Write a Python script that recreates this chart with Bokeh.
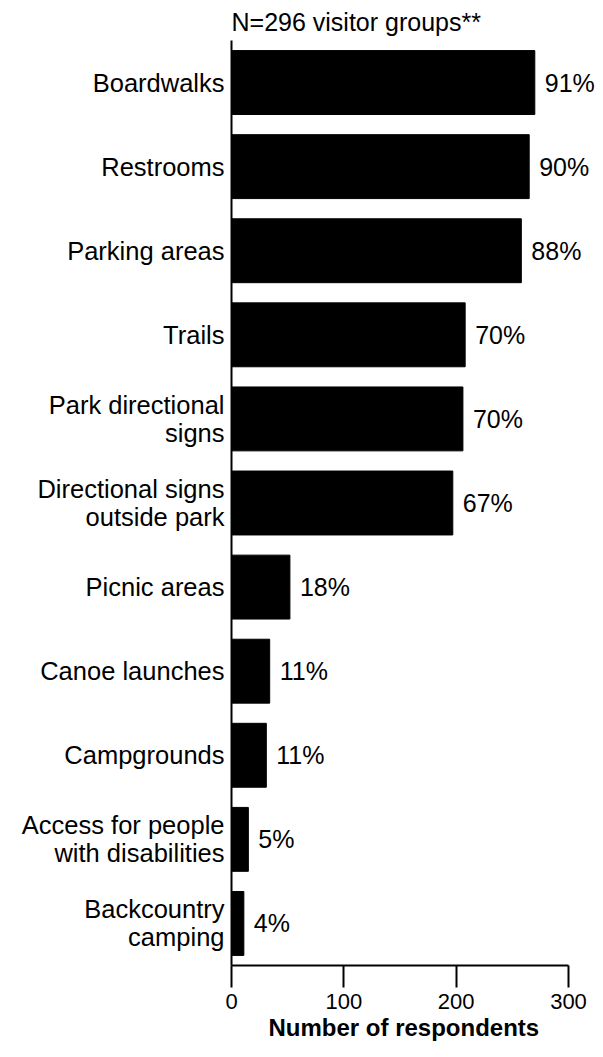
from bokeh.plotting import figure
from bokeh.models import FactorRange, Range1d, FixedTicker, ColumnDataSource, Title
from bokeh.embed import file_html
from bokeh.resources import INLINE
from bokeh.core.properties import value

categories = [
    "Boardwalks",
    "Restrooms",
    "Parking areas",
    "Trails",
    "Park directional\nsigns",
    "Directional signs\noutside park",
    "Picnic areas",
    "Canoe launches",
    "Campgrounds",
    "Access for people\nwith disabilities",
    "Backcountry\ncamping",
]
respondents = [270, 265, 258, 208, 206, 197, 52, 34, 31, 15, 11]
percent_labels = ["91%", "90%", "88%", "70%", "70%", "67%", "18%", "11%", "11%", "5%", "4%"]
x_ticks = [0, 100, 200, 300]
title_text = "N=296 visitor groups**"
x_title = "Number of respondents"

FONT = "Liberation Sans"

source = ColumnDataSource(dict(cat=categories, val=respondents, pct=percent_labels))

p = figure(
    width=598, height=1050,
    y_range=FactorRange(factors=categories[::-1], range_padding=0),
    x_range=Range1d(0, 326.7),
    output_backend="svg", toolbar_location=None,
    min_border_left=231, min_border_right=0, min_border_top=40, min_border_bottom=85,
)
p.title.text = title_text
p.title.text_font = FONT
p.title.text_font_size = "25px"
p.title.text_font_style = "normal"
p.title.text_color = "black"
p.title.align = "left"
p.title.text_line_height = 0.7
p.title.standoff = 9

p.hbar(y="cat", right="val", left=0, height=0.76, source=source,
       fill_color="black", line_color="black")
p.text(x="val", y="cat", text="pct", source=source, x_offset=10,
       text_align="left", text_baseline="middle",
       text_font=value(FONT), text_font_size="25px", text_color="black")

p.xgrid.grid_line_color = None
p.ygrid.grid_line_color = None
p.outline_line_color = None

xa = p.xaxis[0]
xa.ticker = FixedTicker(ticks=x_ticks)
xa.bounds = (0, 300)
xa.axis_line_width = 2
xa.major_tick_line_width = 2
xa.major_tick_in = 0
xa.major_tick_out = 22
xa.minor_tick_line_color = None
xa.major_label_standoff = 6
xa.major_label_text_font = FONT
xa.major_label_text_font_size = "22px"
xa.major_label_text_color = "black"

x_title_box = Title(text=x_title, align="left", offset=37, standoff=0,
                    text_font=FONT, text_font_size="24px",
                    text_font_style="bold", text_color="black")
p.add_layout(x_title_box, "below")

ya = p.yaxis[0]
ya.axis_line_width = 2
ya.major_tick_line_color = None
ya.major_tick_in = 0
ya.major_tick_out = 0
ya.minor_tick_line_color = None
ya.major_label_standoff = 7
ya.major_label_text_font = FONT
ya.major_label_text_font_size = "25.5px"
ya.major_label_text_line_height = 1.0
ya.major_label_text_color = "black"

open("out.html", "w").write(file_html(p, INLINE))
